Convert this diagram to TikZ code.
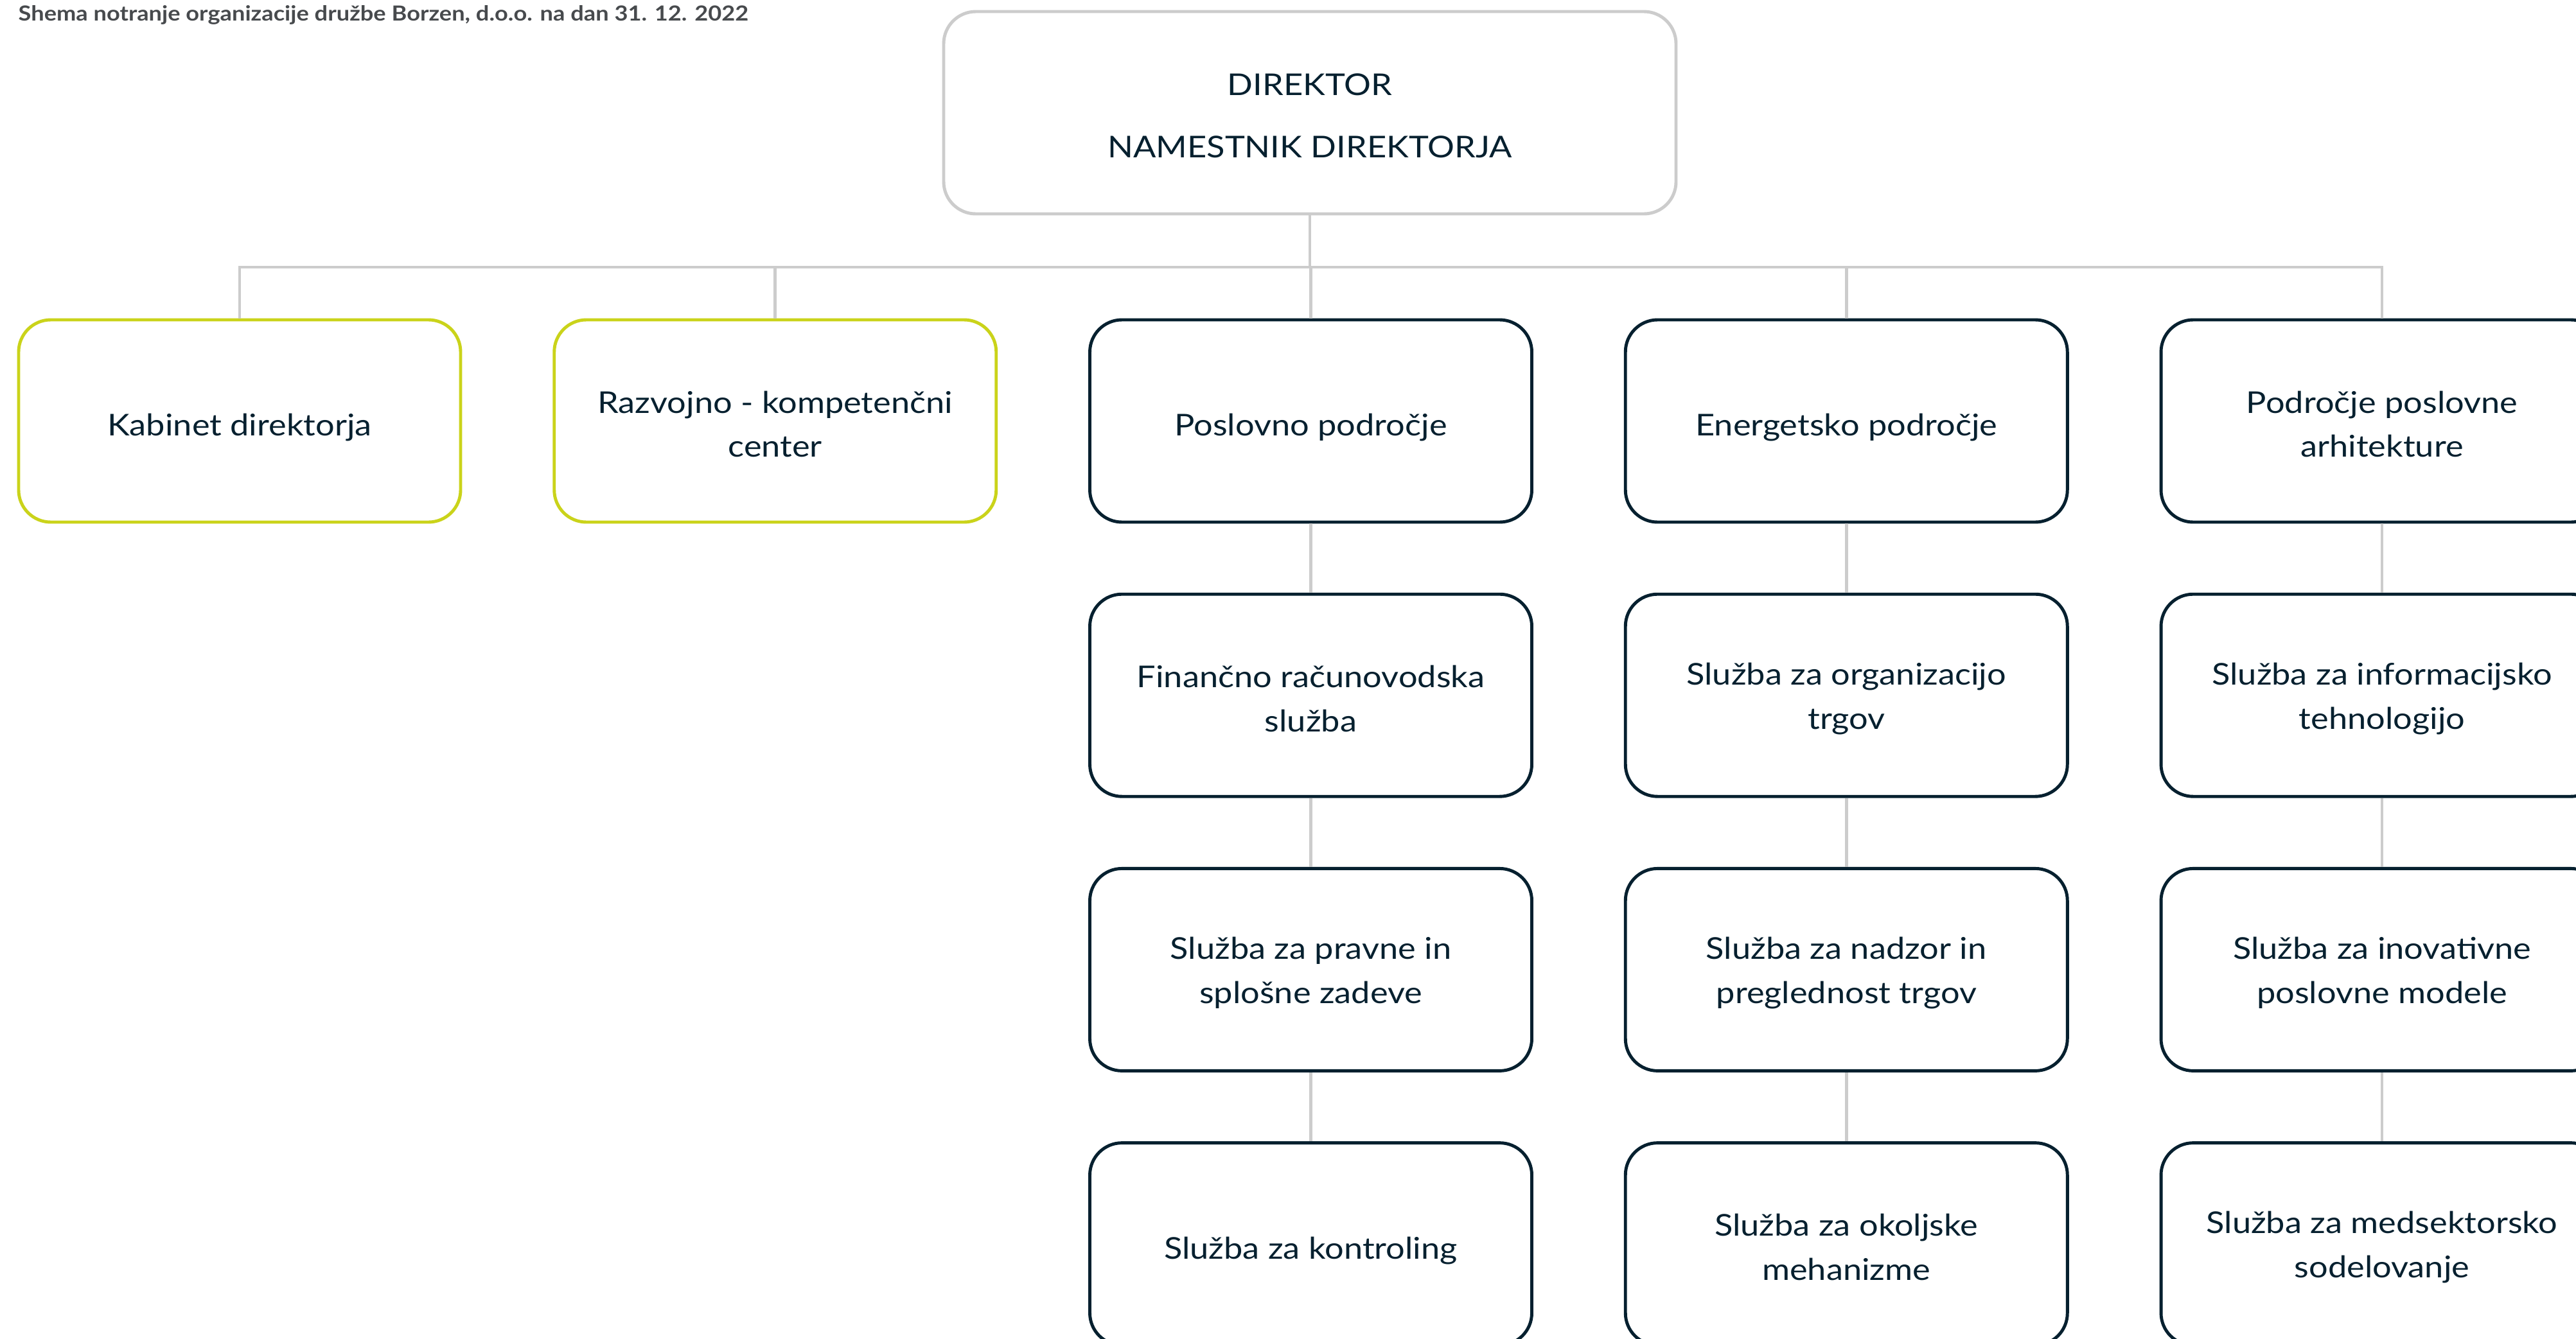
\documentclass[tikz,border=0pt]{standalone}
\usepackage{fontspec}
\setmainfont{Lato}[FakeStretch=1.12]
\definecolor{navy}{HTML}{06202F}
\definecolor{lgrey}{HTML}{CCCCCC}
\definecolor{lime}{HTML}{CAD31A}
\definecolor{titlegrey}{HTML}{474A4D}
\newcommand{\unitbox}[5]{%
  \node[#1] (#2) at (#3) {};
  \node[boxtext, yshift=#5] (#2-t) at (#2) {#4};}
\begin{document}
\begin{tikzpicture}[
  base/.style={rounded corners=0.5cm, line width=1.4pt, inner sep=0pt,
    minimum width=6.88cm, minimum height=3.15cm},
  boxtext/.style={align=center, inner sep=0pt, text=navy,
    font=\fontsize{13.3}{19.6}\selectfont},
  darkbox/.style={base, draw=navy},
  greenbox/.style={base, draw=lime},
  topbox/.style={base, draw=lgrey, minimum width=11.40cm},
  conn/.style={draw=lgrey, line width=1.3pt}
]
\useasboundingbox (0,0) rectangle (40.10,-20.84);
\clip (0,0) rectangle (40.10,-20.84);
\fill[white] (0,0) rectangle (40.10,-20.84);

\node[anchor=base west, inner sep=0pt, text=titlegrey, font=\fontsize{9.2}{11}\selectfont\bfseries]
  (title) at (0.28,-0.33) {Shema notranje organizacije družbe Borzen, d.o.o. na dan 31. 12. 2022};

\node[topbox] (top) at (20.39,-1.755) {};
\node[boxtext, font=\fontsize{13.3}{27.5}\selectfont, yshift=-0.05cm] (top-t) at (top) {DIREKTOR\\NAMESTNIK DIREKTORJA};

% row 1
\unitbox{greenbox}{k}{3.73,-6.555}{Kabinet direktorja}{-0.1cm}
\unitbox{greenbox}{r}{12.0675,-6.555}{Razvojno - kompetenčni\\center}{-0.05cm}
\unitbox{darkbox}{p}{20.405,-6.555}{Poslovno področje}{-0.1cm}
\unitbox{darkbox}{e}{28.7425,-6.555}{Energetsko področje}{-0.1cm}
\unitbox{darkbox}{a}{37.08,-6.555}{Področje poslovne\\arhitekture}{-0.05cm}

% column 3
\unitbox{darkbox}{p1}{20.405,-10.827}{Finančno računovodska\\služba}{-0.05cm}
\unitbox{darkbox}{p2}{20.405,-15.099}{Služba za pravne in\\splošne zadeve}{-0.05cm}
\unitbox{darkbox}{p3}{20.405,-19.371}{Služba za kontroling}{-0.1cm}

% column 4
\unitbox{darkbox}{e1}{28.7425,-10.827}{Služba za organizacijo\\trgov}{-0.05cm}
\unitbox{darkbox}{e2}{28.7425,-15.099}{Služba za nadzor in\\preglednost trgov}{-0.05cm}
\unitbox{darkbox}{e3}{28.7425,-19.371}{Služba za okoljske\\mehanizme}{-0.05cm}

% column 5
\unitbox{darkbox}{a1}{37.08,-10.827}{Služba za informacijsko\\tehnologijo}{-0.05cm}
\unitbox{darkbox}{a2}{37.08,-15.099}{Služba za inovativne\\poslovne modele}{-0.05cm}
\unitbox{darkbox}{a3}{37.08,-19.371}{Služba za medsektorsko\\sodelovanje}{-0.05cm}

\coordinate (bar) at (20.39,-4.16);

\draw[conn] (k.north) |- (bar) -| (a.north);
\draw[conn] (top.south) -- (top.south |- bar);
\draw[conn] (r.north) -- (r.north |- bar);
\draw[conn] (p.north) -- (p.north |- bar);
\draw[conn] (e.north) -- (e.north |- bar);

\draw[conn] (p.south) -- (p1.north);
\draw[conn] (p1.south) -- (p2.north);
\draw[conn] (p2.south) -- (p3.north);
\draw[conn] (e.south) -- (e1.north);
\draw[conn] (e1.south) -- (e2.north);
\draw[conn] (e2.south) -- (e3.north);
\draw[conn] (a.south) -- (a1.north);
\draw[conn] (a1.south) -- (a2.north);
\draw[conn] (a2.south) -- (a3.north);
\end{tikzpicture}
\end{document}
